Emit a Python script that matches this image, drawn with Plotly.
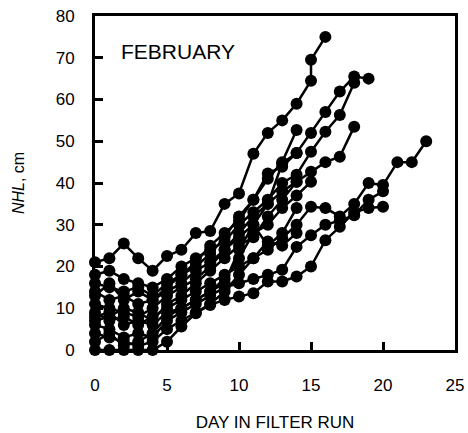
import plotly.graph_objects as go

# Each run: days and NHL values (cm)
run1_days = [0, 1, 2, 3, 4, 5, 6, 7, 8, 9, 10, 11, 12, 13, 14, 15, 15, 16]
run1_nhl = [21, 22, 25.5, 22, 19, 22.5, 24, 28, 28.5, 35, 37.5, 47, 52, 55, 59, 64.5, 69.5, 75]

run2_days = [0, 1, 2, 3, 4, 5, 6, 7, 8, 9, 10, 11, 12, 13, 14, 15, 16, 17, 18]
run2_nhl = [18, 19, 17, 16, 15, 17, 20, 22, 24, 26, 30, 33, 36, 40, 42, 47.5, 52.3, 56.3, 64]

run3_days = [0, 1, 2, 3, 4, 5, 6, 7, 8, 9, 10, 11, 12, 13, 14, 15, 16, 17, 18, 19]
run3_nhl = [14, 12, 13, 11, 12, 14, 16, 19, 21, 24, 27, 30, 35, 44.7, 47.2, 52, 57, 61.9, 65.5, 65]

run4_days = [0, 1, 2, 3, 4, 5, 6, 7, 8, 9, 10, 11, 12, 13, 14, 15, 16, 17, 18]
run4_nhl = [11, 10, 9, 8, 10, 13, 15, 17, 20, 24, 28, 32, 35, 38, 40.3, 42.7, 45, 46.3, 53.5]

run5_days = [0, 1, 2, 3, 4, 5, 6, 7, 8, 9, 10, 11, 12, 13, 14, 15, 16, 17, 18, 19, 20, 21, 22, 23]
run5_nhl = [9, 7, 8, 6, 8, 10, 12, 14, 16, 18, 20, 22, 24, 26.8, 30, 34.3, 34, 32, 35, 40, 39.5, 45, 45, 50]

run6_days = [0, 1, 2, 3, 4, 5, 6, 7, 8, 9, 10, 11, 12, 13, 14, 15, 16, 17, 18, 19, 20]
run6_nhl = [0, 0, 0, 0, 0, 2, 5.6, 8.8, 10.8, 12, 12.8, 13.6, 16.4, 16.4, 17.6, 20, 26.3, 29.5, 33, 34, 34.3]

run7_days = [0, 1, 2, 3, 4, 5, 6, 7, 8, 9, 10, 11, 12, 13, 14, 15, 16, 17, 18, 19, 20]
run7_nhl = [6, 5, 3, 4, 3, 7, 9, 11, 13, 15, 16, 17, 18, 19.2, 24.7, 27.5, 30, 31, 32.3, 36, 38]

run8_days = [0, 1, 2, 3, 4, 5, 6, 7, 8, 9, 10, 11, 12, 13, 14]
run8_nhl = [16, 15, 14, 15, 13, 16, 18, 21, 25, 28, 31, 36, 42.3, 43.9, 47.2]

run9_days = [0, 1, 2, 3, 4, 5, 6, 7, 8, 9, 10, 11, 12, 13, 14, 15]
run9_nhl = [8, 9, 6, 7, 6, 9, 10, 12, 14, 17, 22, 28, 30, 34, 37, 40.3]

run10_days = [0, 1, 2, 3, 4, 5, 6, 7, 8, 9, 10, 11, 12, 13, 14]
run10_nhl = [4, 3, 2, 1, 2, 5, 7, 9, 11, 14, 18, 22, 26, 25, 28]

run11_days = [0, 1, 2, 3, 4, 5, 6, 7, 8, 9, 10, 11, 12, 13, 14]
run11_nhl = [13, 16, 12, 14, 12, 15, 18, 20, 23, 27, 32, 36, 41, 45, 52.7]

run12_days = [0, 1, 2, 3, 4, 5, 6, 7, 8, 9, 10, 11, 12, 13, 14]
run12_nhl = [2, 4, 1, 2, 4, 8, 10, 12, 14, 16, 24, 30, 25, 28, 34]

run13_days = [0, 1, 2, 3, 4, 5, 6, 7, 8, 9, 10, 11, 12, 13, 14]
run13_nhl = [7, 8, 10, 9, 7, 11, 13, 16, 19, 22, 25, 27, 32, 36, 40.3]

runs = [
    (run1_days, run1_nhl), (run2_days, run2_nhl), (run3_days, run3_nhl),
    (run4_days, run4_nhl), (run5_days, run5_nhl), (run6_days, run6_nhl),
    (run7_days, run7_nhl), (run8_days, run8_nhl), (run9_days, run9_nhl),
    (run10_days, run10_nhl), (run11_days, run11_nhl), (run12_days, run12_nhl),
    (run13_days, run13_nhl),
]

x_ticks = [0, 5, 10, 15, 20, 25]
y_ticks = [0, 10, 20, 30, 40, 50, 60, 70, 80]

fig = go.Figure()
for d, v in runs:
    fig.add_trace(go.Scatter(
        x=d, y=v, mode="lines+markers",
        line=dict(color="black", width=2.5),
        marker=dict(size=12, color="black"),
        cliponaxis=False, showlegend=False,
    ))

font = "Liberation Sans, Arial, sans-serif"
fig.update_layout(
    width=468, height=433,
    margin=dict(l=95, r=13, t=16, b=83, autoexpand=False),
    paper_bgcolor="white", plot_bgcolor="white",
    font=dict(family=font, color="black", size=17),
    xaxis=dict(
        range=[0, 25], tickvals=x_ticks, ticks="inside", ticklen=8, tickwidth=3,
        tickcolor="black", showline=True, linewidth=3, linecolor="black",
        mirror=True, showgrid=False, zeroline=False,
        ticklabelstandoff=18, automargin=False,
        title=dict(text="DAY IN FILTER RUN", font=dict(size=17), standoff=22),
    ),
    yaxis=dict(
        range=[0, 80], tickvals=y_ticks, ticks="inside", ticklen=8, tickwidth=3,
        tickcolor="black", showline=True, linewidth=3, linecolor="black",
        mirror=True, showgrid=False, zeroline=False,
        ticklabelstandoff=14, automargin=False,
        title=dict(text="<i>NHL</i>, cm", font=dict(size=16), standoff=28),
    ),
    annotations=[dict(
        x=1.67, y=71.5, xref="x", yref="y", text="FEBRUARY", showarrow=False,
        xanchor="left", yanchor="middle", font=dict(size=21, family=font),
    )],
)

fig.write_html(
    "out.html",
    config={"displayModeBar": False},
    post_script="document.body.style.margin='0';document.body.style.overflow='hidden';",
)
